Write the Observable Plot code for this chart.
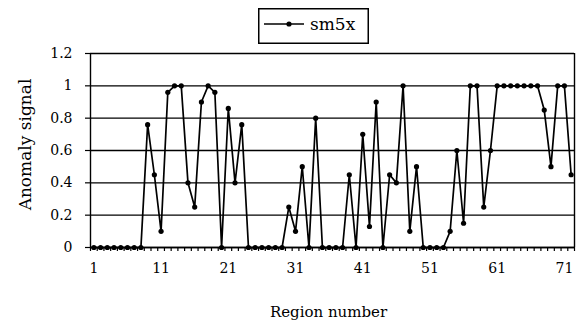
<!DOCTYPE html>
<html><head><meta charset="utf-8">
<script src="https://cdn.jsdelivr.net/npm/d3@7"></script>
<script src="https://cdn.jsdelivr.net/npm/@observablehq/plot@0.6"></script>
<style>
body{margin:0;background:#fff;}
#wrap{position:relative;width:578px;height:327px;overflow:hidden;}
#legend{position:absolute;left:258px;top:8px;}
</style></head><body><div id="wrap"></div>
<script>
// Data
const regions = d3.range(1, 73);
const sm5x = [
  0, 0, 0, 0, 0, 0, 0, 0,
  0.76, 0.45, 0.10, 0.96, 1, 1, 0.40, 0.25, 0.90, 1, 0.96, 0, 0.86, 0.40, 0.76,
  0, 0, 0, 0, 0, 0,
  0.25, 0.10, 0.50, 0, 0.80, 0, 0, 0, 0, 0.45, 0, 0.70, 0.13, 0.90, 0, 0.45, 0.40, 1, 0.10, 0.50,
  0, 0, 0, 0,
  0.10, 0.60, 0.15, 1, 1, 0.25, 0.60, 1, 1, 1, 1, 1, 1, 1, 0.85, 0.50, 1, 1, 0.45
];
const yTicks = [0, 0.2, 0.4, 0.6, 0.8, 1, 1.2];
const xTickLabels = [1, 11, 21, 31, 41, 51, 61, 71];
const seriesName = "sm5x";
const xTitle = "Region number";
const yTitle = "Anomaly signal";

const data = regions.map((r, i) => ({region: r, value: sm5x[i]}));
const boundaries = d3.range(0, regions.length + 1).map(d => d + 0.5);

const chart = Plot.plot({
  width: 578, height: 327,
  marginLeft: 90, marginRight: 4, marginTop: 53, marginBottom: 80,
  style: {fontFamily: "DejaVu Serif", fontSize: "14px", color: "#000", background: "#fff"},
  x: {domain: [0.5, regions.length + 0.5], axis: null},
  y: {domain: [0, 1.2], axis: null},
  marks: [
    Plot.gridY(yTicks, {stroke: "#000", strokeOpacity: 1, strokeWidth: 1.4}),
    Plot.axisY(yTicks, {tickSize: 5, tickPadding: 13, tickFormat: d3.format("~g"), label: null, strokeWidth: 1.2}),
    Plot.axisX(boundaries, {tickSize: 4, tickFormat: () => "", label: null, strokeWidth: 1.2}),
    Plot.axisX(xTickLabels, {tickSize: 0, tickPadding: 16, label: null}),
    Plot.ruleX([0.5, regions.length + 0.5], {stroke: "#000", strokeWidth: 1.4}),
    Plot.ruleY([0], {stroke: "#000", strokeWidth: 1.6}),
    Plot.line(data, {x: "region", y: "value", stroke: "#000", strokeWidth: 1.7}),
    Plot.dot(data, {x: "region", y: "value", r: 2.6, fill: "#000", stroke: "none"}),
    Plot.text([yTitle], {text: d => d, frameAnchor: "left", textAnchor: "middle", rotate: -90, dx: -65, dy: -6, fontSize: 17}),
    Plot.text([xTitle], {text: d => d, frameAnchor: "bottom", textAnchor: "middle", dx: -4, dy: 69, fontSize: 15})
  ]
});
document.getElementById("wrap").appendChild(chart);

// Legend
const lg = d3.create("svg").attr("id", "legend").attr("width", 111).attr("height", 36)
  .style("font-family", "DejaVu Serif");
lg.append("rect").attr("x", 0.75).attr("y", 0.75).attr("width", 109.5).attr("height", 34.5)
  .attr("fill", "#fff").attr("stroke", "#000").attr("stroke-width", 1.5);
lg.append("line").attr("x1", 6).attr("x2", 46).attr("y1", 16).attr("y2", 16)
  .attr("stroke", "#000").attr("stroke-width", 1.7);
lg.append("circle").attr("cx", 31).attr("cy", 16).attr("r", 2.6).attr("fill", "#000");
lg.append("text").attr("x", 52).attr("y", 22).attr("font-size", 17).text(seriesName);
document.getElementById("wrap").appendChild(lg.node());
</script>
</body></html>
